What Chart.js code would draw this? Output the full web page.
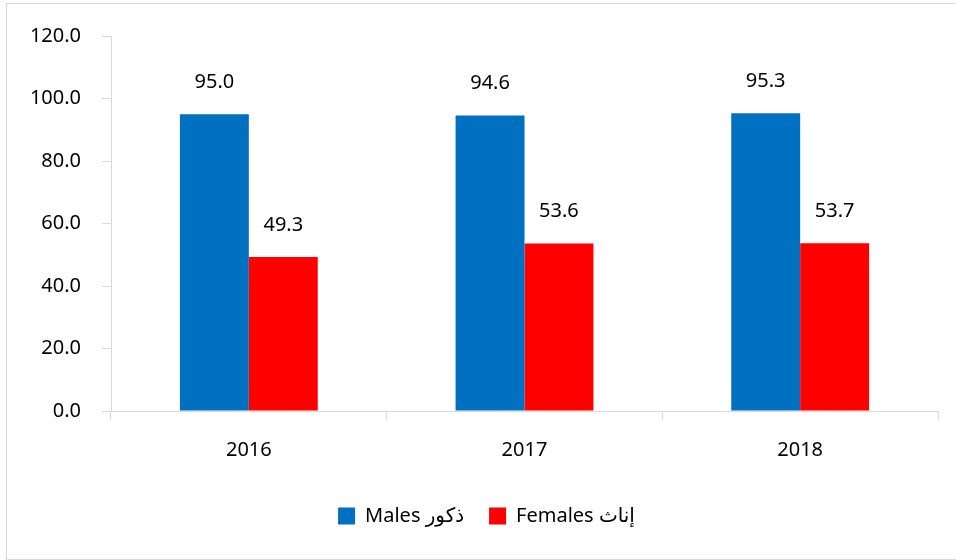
<!DOCTYPE html>
<html>
<head>
<meta charset="utf-8">
<script src="https://cdn.jsdelivr.net/npm/chart.js@4.4.0/dist/chart.umd.min.js"></script>
<style>
  body { margin: 0; background: #fff; }
  #wrap { position: relative; width: 956px; height: 560px; overflow: hidden; }
  #frame { position: absolute; left: 6px; top: 3px; width: 970px; height: 555px; border: 1px solid #d9d9d9; pointer-events: none; }
  canvas { position: absolute; left: 0; top: 0; }
</style>
</head>
<body>
<div id="wrap">
  <canvas id="genderChart" width="956" height="560"></canvas>
  <div id="frame"></div>
</div>
<script>
const years = ['2016', '2017', '2018'];
const males = [95.0, 94.6, 95.3];
const females = [49.3, 53.6, 53.7];
const yTicks = [0, 20, 40, 60, 80, 100, 120];

const FONT = '"Noto Sans", "DejaVu Sans", sans-serif';
const AXIS_GREY = '#d9d9d9';

// numbers above each bar
const valueLabels = {
    id: 'valueLabels',
    afterDatasetsDraw(chart) {
        const ctx = chart.ctx;
        ctx.save();
        ctx.font = '20px ' + FONT;
        ctx.fillStyle = '#000';
        ctx.textAlign = 'center';
        ctx.textBaseline = 'middle';
        chart.data.datasets.forEach((ds, i) => {
            chart.getDatasetMeta(i).data.forEach((bar, j) => {
                ctx.fillText(ds.data[j].toFixed(1), bar.x, bar.y - 32);
            });
        });
        ctx.restore();
    }
};

// legend sits a little right of the canvas centre in the original
const nudgeLegend = {
    id: 'nudgeLegend',
    afterLayout(chart) {
        chart.legend.left += 12;
        chart.legend.right += 12;
    }
};

const ctx = document.getElementById('genderChart').getContext('2d');
new Chart(ctx, {
    type: 'bar',
    data: {
        labels: years,
        datasets: [{
            label: 'Males ذكور',
            data: males,
            backgroundColor: '#0070C0',
            barPercentage: 1,
            categoryPercentage: 0.5
        }, {
            label: 'Females إناث',
            data: females,
            backgroundColor: '#FF0000',
            barPercentage: 1,
            categoryPercentage: 0.5
        }]
    },
    options: {
        responsive: false,
        animation: false,
        layout: {
            padding: { left: 11, right: 18, top: 36, bottom: 24 }
        },
        scales: {
            x: {
                grid: {
                    offset: true,
                    drawOnChartArea: false,
                    tickLength: 9,
                    color: AXIS_GREY
                },
                border: { color: AXIS_GREY },
                ticks: {
                    color: '#000',
                    padding: 18,
                    font: { family: FONT, size: 20 }
                },
                afterFit: (scale) => { scale.height = 70; }
            },
            y: {
                min: 0,
                max: 120,
                afterBuildTicks: (scale) => { scale.ticks = yTicks.map(v => ({ value: v })); },
                grid: {
                    drawOnChartArea: false,
                    tickLength: 9,
                    color: AXIS_GREY
                },
                border: { color: AXIS_GREY },
                ticks: {
                    color: '#000',
                    padding: 21,
                    font: { family: FONT, size: 20 },
                    callback: (v) => v.toFixed(1)
                },
                afterFit: (scale) => { scale.width = 100; }
            }
        },
        plugins: {
            legend: {
                position: 'bottom',
                labels: {
                    color: '#000',
                    boxWidth: 17,
                    boxHeight: 17,
                    padding: 25,
                    font: { family: FONT, size: 20 }
                }
            },
            tooltip: { enabled: false }
        }
    },
    plugins: [valueLabels, nudgeLegend]
});
</script>
</body>
</html>
